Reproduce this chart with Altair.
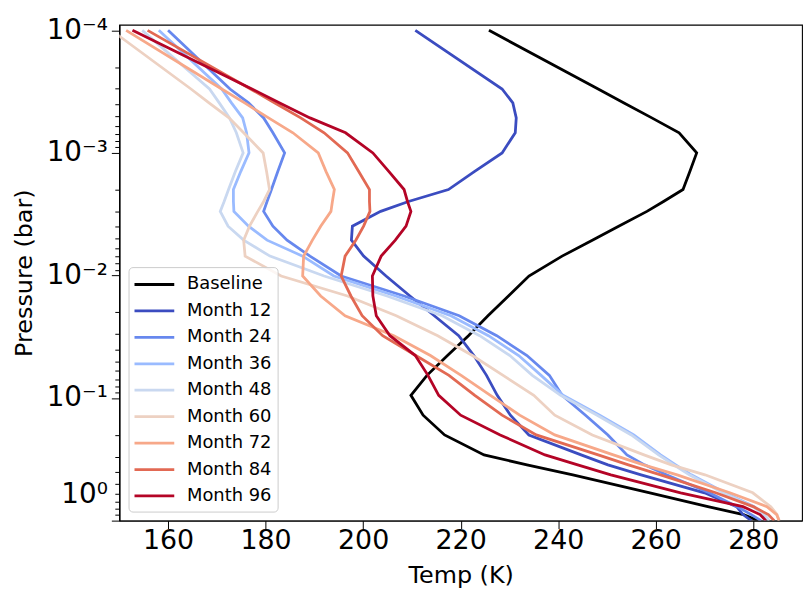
import altair as alt
import pandas as pd

# Pressure levels (bar), top of atmosphere first
pressure = [1.0e-4, 3.01e-4, 3.91e-4, 5.18e-4, 6.85e-4, 1.0e-3, 1.42e-3, 1.99e-3,
            2.49e-3, 3.0e-3, 3.96e-3, 5.15e-3, 6.95e-3, 1.01e-2, 1.47e-2, 2.13e-2,
            3.10e-2, 4.50e-2, 6.53e-2, 9.50e-2, 0.138, 0.200, 0.291, 0.351, 0.423,
            0.593, 0.769, 0.893, 1.0]

series_names = ["Baseline", "Month 12", "Month 24", "Month 36", "Month 48",
                "Month 60", "Month 72", "Month 84", "Month 96"]
series_colors = ["#000000", "#3b4cc0", "#6788ee", "#9abbff", "#c9d8f0",
                 "#edd1c2", "#f7a889", "#e26953", "#b40426"]

temp_baseline = [225.8, 248.2, 253.5, 259.2, 264.8, 268.4, 267.0, 265.6, 261.6, 258.2,
                 252.4, 247.0, 240.8, 234.0, 229.8, 225.6, 221.6, 217.3, 213.1, 209.8,
                 212.3, 216.7, 224.8, 233.6, 243.0, 258.8, 270.7, 278.0, 281.0]
temp_m12 = [210.7, 228.5, 230.7, 231.4, 231.2, 228.5, 222.8, 217.5, 209.3, 203.6,
            197.8, 197.6, 200.1, 204.7, 209.6, 214.6, 219.6, 222.7, 225.3, 227.5,
            230.2, 234.0, 244.7, 250.2, 257.0, 270.0, 276.6, 277.9, 279.6]
temp_m24 = [160.0, 172.7, 176.5, 179.6, 181.5, 183.9, 182.5, 181.2, 180.3, 179.6,
            181.5, 184.4, 189.1, 195.5, 208.4, 219.7, 227.4, 233.6, 238.2, 240.8,
            245.6, 250.2, 254.1, 257.7, 262.2, 271.0, 276.7, 279.6, 281.6]
temp_m36 = [158.1, 171.0, 173.0, 175.3, 176.1, 176.6, 174.9, 173.4, 173.4, 173.5,
            176.5, 180.3, 187.6, 194.0, 206.7, 218.0, 225.7, 231.9, 236.5, 241.0,
            248.5, 255.5, 261.0, 264.1, 267.3, 274.2, 280.2, 282.0, 282.5]
temp_m48 = [154.7, 168.5, 170.5, 172.6, 174.0, 175.4, 173.8, 172.4, 171.5, 170.7,
            172.3, 175.5, 180.9, 192.0, 204.9, 216.2, 223.9, 230.1, 234.7, 240.5,
            248.0, 255.0, 260.6, 263.7, 266.9, 273.8, 279.9, 282.3, 283.3]
temp_m60 = [148.4, 164.7, 168.4, 172.5, 175.5, 179.5, 180.2, 180.8, 179.6, 178.4,
            176.7, 175.5, 175.8, 183.2, 196.8, 206.8, 215.3, 222.4, 228.7, 235.0,
            239.3, 247.0, 257.6, 263.2, 270.1, 279.9, 283.6, 284.9, 285.3]
temp_m72 = [151.4, 171.0, 175.7, 180.6, 185.6, 190.8, 192.4, 194.1, 193.7, 193.4,
            191.3, 189.6, 187.8, 187.6, 191.3, 196.3, 206.3, 213.8, 220.1, 226.1,
            232.1, 239.3, 251.3, 257.5, 264.4, 275.2, 282.8, 284.8, 285.3]
temp_m84 = [155.8, 176.9, 181.9, 187.2, 192.0, 196.8, 199.1, 201.3, 201.3, 201.4,
            200.1, 198.5, 196.3, 195.5, 197.5, 199.8, 204.0, 210.8, 217.6, 222.9,
            228.5, 235.5, 248.2, 254.4, 261.0, 272.3, 280.0, 283.1, 284.3]
temp_m96 = [152.7, 177.2, 182.9, 189.1, 196.4, 202.0, 205.3, 208.4, 209.1, 209.8,
            208.8, 206.6, 203.7, 201.9, 202.0, 202.7, 205.5, 210.7, 213.3, 215.5,
            220.0, 228.1, 237.3, 244.0, 250.8, 265.1, 277.9, 281.4, 282.6]

x_ticks = [160, 180, 200, 220, 240, 260, 280]
y_major = [1e-4, 1e-3, 1e-2, 1e-1, 1.0]
y_minor = [m * d for d in [1e-4, 1e-3, 1e-2, 1e-1] for m in range(2, 10)]

all_temps = [temp_baseline, temp_m12, temp_m24, temp_m36, temp_m48,
             temp_m60, temp_m72, temp_m84, temp_m96]
rows = []
for name, temps in zip(series_names, all_temps):
    for i, (p, t) in enumerate(zip(pressure, temps)):
        rows.append({"series": name, "idx": i, "P": p, "T": t})
df = pd.DataFrame(rows)

FONT = "DejaVu Sans"

x_enc = alt.X("T:Q",
              scale=alt.Scale(domain=[150, 290], nice=False, zero=False),
              axis=alt.Axis(values=x_ticks, title="Temp (K)", grid=False,
                            labelFontSize=27, titleFontSize=24, labelFont=FONT,
                            titleFont=FONT, titleFontWeight="normal",
                            labelColor="black", titleColor="black",
                            tickColor="black", domainColor="black",
                            tickSize=8, labelPadding=-1, labelFlush=False,
                            titleY=55, titleBaseline="middle"))
y_scale = alt.Scale(type="log", domain=[9.0e-5, 1.0], reverse=True, nice=False)

lines = alt.Chart(df).mark_line(strokeWidth=2.8, clip=True).encode(
    x=x_enc,
    y=alt.Y("P:Q", scale=y_scale,
            axis=alt.Axis(values=y_major, title="Pressure (bar)", grid=False,
                          orient="left",
                          labelExpr="['10⁻⁴','10⁻³','10⁻²','10⁻¹','10⁰'][round(log(datum.value)/LN10)+4]",
                          labelOffset={"condition": {"test": "datum.value >= 0.5", "value": -26}, "value": 0},
                          labelFontSize=28, titleFontSize=24, labelFont=FONT,
                          titleFont=FONT, titleFontWeight="normal",
                          labelColor="black", titleColor="black",
                          tickColor="black", domainColor="black",
                          tickSize=8, labelPadding=4, labelFlush=False,
                          titleX=-95, titleY=249.5, titleAngle=-90,
                          titleAlign="center", titleBaseline="middle")),
    color=alt.Color("series:N",
                    scale=alt.Scale(domain=series_names, range=series_colors),
                    legend=alt.Legend(title=None, orient="none",
                                      legendX=9.3, legendY=243.9,
                                      symbolType="M-2,0L2,0", symbolSize=400,
                                      symbolStrokeWidth=2.8, symbolOffset=8.5,
                                      labelOffset=21.3, labelFontSize=18,
                                      labelFont=FONT, labelColor="black",
                                      labelLimit=300, rowPadding=5.6,
                                      padding=6, fillColor="rgba(255,255,255,0.8)",
                                      strokeColor="#cccccc", cornerRadius=4)),
    order="idx:Q",
)

minor = alt.Chart(df).mark_line(strokeOpacity=0).encode(
    x=x_enc,
    y=alt.Y("P:Q", scale=y_scale,
            axis=alt.Axis(values=y_minor, labels=False, title=None, grid=False,
                          orient="left", tickSize=4.5, tickColor="black",
                          domainColor="black")),
    detail="series:N",
    order="idx:Q",
)

chart = alt.layer(lines, minor).resolve_axis(y="independent").properties(
    width=687, height=499,
    autosize=alt.AutoSizeParams(type="none"),
    padding={"left": 112, "top": 15, "right": 1, "bottom": 70},
).configure_view(stroke="black", strokeWidth=1.1)

chart.save("out.html", embed_options={"renderer": "svg", "actions": False})
